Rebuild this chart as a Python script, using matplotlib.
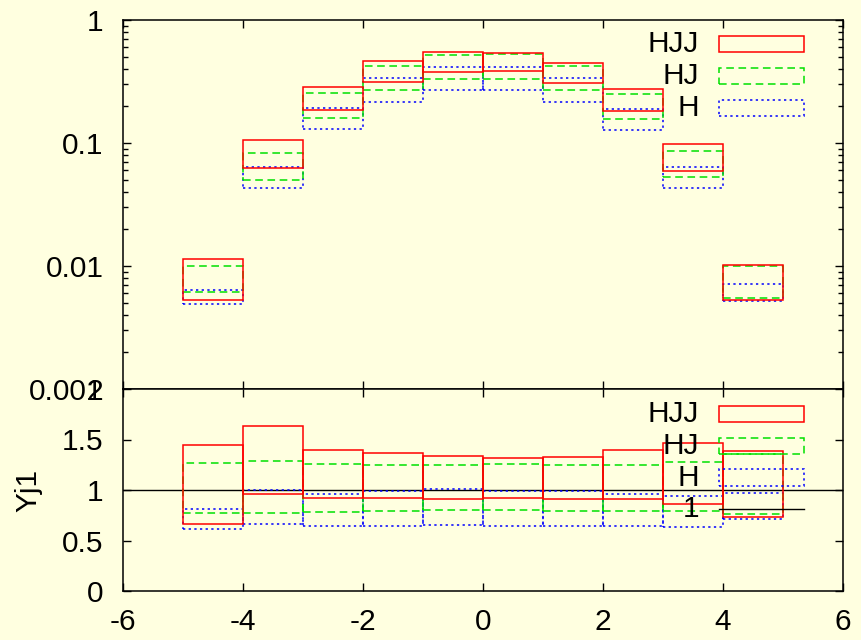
import numpy as np
import matplotlib
matplotlib.use("Agg")
import matplotlib.pyplot as plt
from matplotlib.patches import Rectangle
from matplotlib.lines import Line2D
from matplotlib.ticker import FixedLocator, LogLocator, NullFormatter, FixedFormatter

plt.rcParams['font.family'] = ['Liberation Sans', 'DejaVu Sans']

# ---- data ----
bin_edges = [-5, -4, -3, -2, -1, 0, 1, 2, 3, 4, 5]
series_labels = ["HJJ", "HJ", "H"]

hjj_hi = [0.0115, 0.105, 0.284, 0.462, 0.549, 0.542, 0.450, 0.276, 0.0987, 0.0101]
hjj_lo = [0.00526, 0.0623, 0.185, 0.311, 0.376, 0.385, 0.308, 0.182, 0.0589, 0.00526]
hj_hi = [0.0100, 0.0825, 0.254, 0.420, 0.519, 0.526, 0.423, 0.249, 0.0866, 0.00995]
hj_lo = [0.00611, 0.0500, 0.159, 0.268, 0.330, 0.331, 0.268, 0.158, 0.0532, 0.00546]
h_hi = [0.00634, 0.0642, 0.194, 0.336, 0.417, 0.417, 0.336, 0.189, 0.0642, 0.0071]
h_lo = [0.00491, 0.0431, 0.129, 0.217, 0.270, 0.270, 0.217, 0.128, 0.0431, 0.00516]

r_hjj_hi = [1.446, 1.637, 1.393, 1.363, 1.337, 1.314, 1.330, 1.393, 1.465, 1.389]
r_hjj_lo = [0.660, 0.963, 0.921, 0.918, 0.914, 0.924, 0.908, 0.914, 0.865, 0.730]
r_hj_hi = [1.264, 1.287, 1.254, 1.244, 1.244, 1.257, 1.244, 1.251, 1.277, 1.356]
r_hj_lo = [0.772, 0.775, 0.785, 0.792, 0.799, 0.799, 0.795, 0.795, 0.789, 0.762]
r_h_hi = [0.809, 0.997, 0.960, 0.990, 1.010, 0.993, 0.990, 0.957, 0.941, 0.967]
r_h_lo = [0.617, 0.667, 0.644, 0.644, 0.657, 0.647, 0.644, 0.640, 0.637, 0.710]

ratio_ref = 1.0
ratio_ref_label = "1"

x_ticks = [-6, -4, -2, 0, 2, 4, 6]
top_yticks = [1, 0.1, 0.01, 0.001]
top_yticklabels = ["1", "0.1", "0.01", "0.001"]
bot_yticks = [0, 0.5, 1, 1.5, 2]
bot_yticklabels = ["0", "0.5", "1", "1.5", "2"]
ylabel_text = "Yj1"

# ---- style ----
BG = "#ffffe0"
colors = ["#ff0000", "#00e000", "#0000ff"]
styles = ["-", (0, (5, 3)), (0, (1.5, 2.2))]
LW = 1.1
FS = 21.5

fig = plt.figure(figsize=(8.61, 6.4), dpi=100, facecolor=BG)
L, R = 123 / 861, 843 / 861
ax1 = fig.add_axes([L, 1 - 389 / 640, R - L, (389 - 20) / 640], facecolor=BG)
ax2 = fig.add_axes([L, 1 - 591 / 640, R - L, (591 - 389) / 640], facecolor=BG)

edges = np.array(bin_edges, dtype=float)
left = edges[:-1]
width = np.diff(edges)

top_series = [(hjj_lo, hjj_hi), (hj_lo, hj_hi), (h_lo, h_hi)]
bot_series = [(r_hjj_lo, r_hjj_hi), (r_hj_lo, r_hj_hi), (r_h_lo, r_h_hi)]

for ax, series in ((ax1, top_series), (ax2, bot_series)):
    for i in [2, 1, 0]:
        lo, hi = np.array(series[i][0]), np.array(series[i][1])
        ax.bar(left, hi - lo, bottom=lo, width=width, align='edge', fill=False,
               edgecolor=colors[i], linestyle=styles[i], linewidth=LW, zorder=3 - i * 0.1)

ax2.axhline(ratio_ref, color='black', lw=1.0, zorder=2)

# axes setup
ax1.set_yscale('log')
ax1.set_ylim(0.001, 1)
ax2.set_ylim(0, 2)
for ax in (ax1, ax2):
    ax.set_xlim(-6, 6)
    ax.set_xticks(x_ticks)
    for s in ax.spines.values():
        s.set_linewidth(1.1)
        s.set_color('black')
    ax.tick_params(which='both', direction='in', top=True, right=True,
                   labelsize=FS, width=1.0, color='black')
    ax.tick_params(which='major', length=6, pad=14)
    ax.tick_params(which='minor', length=3.5)

ax1.tick_params(axis='x', labelbottom=False)
ax1.yaxis.set_major_locator(FixedLocator(top_yticks))
ax1.yaxis.set_major_formatter(FixedFormatter(top_yticklabels))
ax1.yaxis.set_minor_locator(LogLocator(base=10, subs=np.arange(2, 10)))
ax1.yaxis.set_minor_formatter(NullFormatter())

ax2.set_yticks(bot_yticks)
ax2.set_yticklabels(bot_yticklabels)
ax2.set_xticklabels([str(t) for t in x_ticks])
ax2.tick_params(axis='x', pad=12)
ax2.set_ylabel(ylabel_text, fontsize=FS)
ax2.yaxis.set_label_coords(-0.112, 0.5)

# ---- legends (gnuplot style: text right-aligned, sample box to the right) ----
def draw_legend(ax, y_top_px, ax_top_px, ax_h_px, extra_line=None):
    x0 = (719 - 123) / 720
    x1 = (804 - 123) / 720
    xt = (699 - 123) / 720
    pitch = 31.8
    hbox = 16.4
    for i, lab in enumerate(series_labels):
        yc = y_top_px + i * pitch
        fc = 1 - (yc - ax_top_px) / ax_h_px
        hb = hbox / ax_h_px
        ax.add_patch(Rectangle((x0, fc - hb / 2), x1 - x0, hb, transform=ax.transAxes,
                               fill=False, edgecolor=colors[i], linestyle=styles[i],
                               linewidth=LW, clip_on=False, zorder=5))
        ax.text(xt, fc, lab, transform=ax.transAxes, ha='right', va='center',
                fontsize=FS, zorder=5)
    if extra_line is not None:
        yc = y_top_px + 3 * pitch
        fc = 1 - (yc - ax_top_px) / ax_h_px
        ax.add_line(Line2D([x0, x1], [fc, fc], transform=ax.transAxes, color='black',
                           lw=1.0, zorder=5))
        ax.text(xt, fc, extra_line, transform=ax.transAxes, ha='right', va='center',
                fontsize=FS, zorder=5)

draw_legend(ax1, 44.2, 20, 369)
draw_legend(ax2, 414.0, 389, 202, extra_line=ratio_ref_label)

fig.savefig("out.png", dpi=100, facecolor=BG)
